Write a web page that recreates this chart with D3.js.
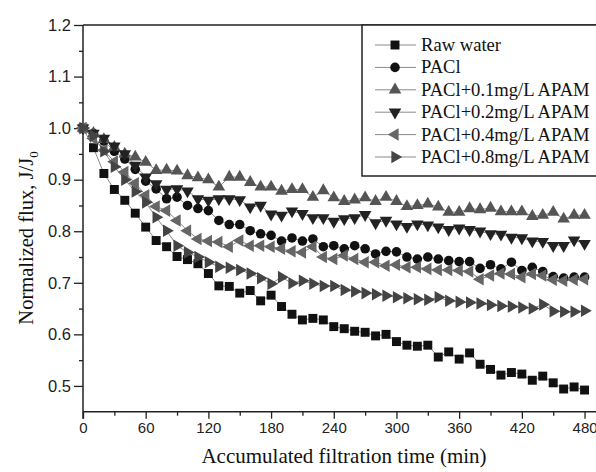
<!DOCTYPE html>
<html>
<head>
<meta charset="utf-8">
<script src="https://cdn.jsdelivr.net/npm/d3@7"></script>
<style>
  html, body { margin: 0; padding: 0; background: #fff; }
  svg { display: block; }
</style>
</head>
<body>
<div id="chart"></div>
<script>
// time axis, one reading every 10 min
var times = d3.range(0, 481, 10);

var rawWater = [1.000, 0.962, 0.912, 0.881, 0.860, 0.835, 0.808, 0.782, 0.770, 0.751,
  0.745, 0.737, 0.718, 0.694, 0.693, 0.680, 0.685, 0.665, 0.676, 0.654,
  0.639, 0.628, 0.631, 0.628, 0.615, 0.611, 0.606, 0.604, 0.597, 0.600,
  0.586, 0.579, 0.577, 0.579, 0.556, 0.566, 0.552, 0.564, 0.542, 0.532,
  0.521, 0.526, 0.523, 0.511, 0.519, 0.506, 0.494, 0.498, 0.492];

var pacl = [1.000, 0.990, 0.975, 0.955, 0.940, 0.920, 0.897, 0.882, 0.863, 0.866,
  0.850, 0.844, 0.840, 0.821, 0.813, 0.813, 0.801, 0.795, 0.792, 0.781,
  0.787, 0.781, 0.785, 0.770, 0.772, 0.766, 0.772, 0.766, 0.756, 0.761,
  0.760, 0.750, 0.746, 0.750, 0.746, 0.743, 0.741, 0.741, 0.728, 0.735,
  0.727, 0.740, 0.724, 0.730, 0.722, 0.712, 0.709, 0.711, 0.711];

var apam01 = [1.000, 0.990, 0.978, 0.963, 0.950, 0.944, 0.934, 0.918, 0.919, 0.917,
  0.908, 0.904, 0.900, 0.886, 0.905, 0.905, 0.895, 0.886, 0.886, 0.878,
  0.881, 0.881, 0.866, 0.879, 0.865, 0.858, 0.861, 0.865, 0.858, 0.866,
  0.858, 0.848, 0.850, 0.853, 0.847, 0.837, 0.837, 0.844, 0.842, 0.845,
  0.838, 0.838, 0.838, 0.829, 0.831, 0.837, 0.824, 0.831, 0.831];

var apam02 = [1.000, 0.990, 0.980, 0.965, 0.950, 0.928, 0.905, 0.892, 0.881, 0.882,
  0.878, 0.863, 0.860, 0.863, 0.863, 0.861, 0.847, 0.850, 0.833, 0.831,
  0.839, 0.834, 0.826, 0.826, 0.819, 0.824, 0.826, 0.832, 0.816, 0.821,
  0.814, 0.809, 0.814, 0.812, 0.808, 0.803, 0.806, 0.803, 0.800, 0.795,
  0.794, 0.788, 0.787, 0.781, 0.780, 0.772, 0.772, 0.783, 0.776];

var apam04 = [1.000, 0.980, 0.957, 0.935, 0.915, 0.893, 0.870, 0.848, 0.840, 0.821,
  0.801, 0.785, 0.781, 0.779, 0.770, 0.782, 0.772, 0.772, 0.770, 0.766,
  0.761, 0.759, 0.770, 0.750, 0.746, 0.753, 0.746, 0.740, 0.740, 0.733,
  0.735, 0.730, 0.730, 0.727, 0.725, 0.725, 0.724, 0.722, 0.707, 0.714,
  0.718, 0.717, 0.711, 0.717, 0.714, 0.706, 0.704, 0.706, 0.707];

var apam08 = [1.000, 0.985, 0.955, 0.925, 0.900, 0.877, 0.856, 0.827, 0.801, 0.772,
  0.759, 0.750, 0.740, 0.731, 0.729, 0.725, 0.718, 0.709, 0.698, 0.711,
  0.699, 0.704, 0.698, 0.694, 0.694, 0.686, 0.683, 0.680, 0.678, 0.675,
  0.672, 0.670, 0.668, 0.667, 0.672, 0.665, 0.663, 0.662, 0.660, 0.657,
  0.655, 0.654, 0.652, 0.650, 0.658, 0.645, 0.644, 0.644, 0.646];

var seriesNames = ["Raw water", "PACl", "PACl+0.1mg/L APAM", "PACl+0.2mg/L APAM",
  "PACl+0.4mg/L APAM", "PACl+0.8mg/L APAM"];
var seriesValues = [rawWater, pacl, apam01, apam02, apam04, apam08];

var xTicks = [0, 60, 120, 180, 240, 300, 360, 420, 480];
var yTicks = [0.5, 0.6, 0.7, 0.8, 0.9, 1.0, 1.1, 1.2];

// marker look for each series
var markers = [
  { type: d3.symbolSquare, size: 80, rot: 0, fill: "#111" },
  { type: d3.symbolCircle, size: 72, rot: 0, fill: "#111" },
  { type: d3.symbolTriangle, size: 68, rot: 0, fill: "#555" },
  { type: d3.symbolTriangle, size: 68, rot: 180, fill: "#222" },
  { type: d3.symbolTriangle, size: 68, rot: -90, fill: "#666" },
  { type: d3.symbolTriangle, size: 68, rot: 90, fill: "#444" }
];

var W = 596, H = 472;
var m = { left: 83, top: 25, right: 595, bottom: 411.7 };

var svg = d3.select("#chart").append("svg")
  .attr("width", W).attr("height", H);

var x = d3.scaleLinear().domain([0, 490]).range([m.left, m.right]);
var y = d3.scaleLinear().domain([0.45, 1.2]).range([m.bottom, m.top]);

var axisColor = "#222";
var serif = "'Liberation Serif', 'Times New Roman', serif";

// frame: top line
svg.append("line")
  .attr("x1", m.left).attr("x2", W).attr("y1", m.top).attr("y2", m.top)
  .attr("stroke", axisColor).attr("stroke-width", 1.5);

// x axis
var xAxis = svg.append("g").attr("transform", "translate(0," + m.bottom + ")")
  .call(d3.axisBottom(x).tickValues(xTicks).tickSize(7).tickPadding(4).tickFormat(d3.format("d")));
svg.append("g").attr("transform", "translate(0," + m.bottom + ")")
  .call(d3.axisBottom(x).tickValues(d3.range(30, 481, 60)).tickSize(4).tickFormat(""))
  .select(".domain").remove();
xAxis.selectAll(".tick text").style("font-size", "15px");

// y axis
var yAxis = svg.append("g").attr("transform", "translate(" + m.left + ",0)")
  .call(d3.axisLeft(y).tickValues(yTicks).tickSize(9).tickPadding(3).tickFormat(d3.format(".1f")));
svg.append("g").attr("transform", "translate(" + m.left + ",0)")
  .call(d3.axisLeft(y).tickValues([0.55, 0.65, 0.75, 0.85, 0.95, 1.05, 1.15]).tickSize(4).tickFormat(""))
  .select(".domain").remove();
yAxis.selectAll(".tick text").style("font-size", "16.5px");

svg.selectAll(".domain").attr("stroke", axisColor).attr("stroke-width", 1.5);
svg.selectAll(".tick line").attr("stroke", axisColor).attr("stroke-width", 1.3);
svg.selectAll(".tick text")
  .attr("fill", "#222")
  .style("font-family", "'Liberation Sans', Arial, sans-serif");
// x axis line runs to the image edge, y axis line down to the 0 tick
xAxis.select(".domain").attr("d", "M" + (m.left) + ",0H" + W);
yAxis.select(".domain").attr("d", "M0," + m.top + "V" + (m.bottom + 7));

// series lines and markers
var line = d3.line()
  .x(function(d, i) { return x(times[i]); })
  .y(function(d) { return y(d); });

seriesValues.forEach(function(vals) {
  svg.append("path")
    .attr("d", line(vals))
    .attr("fill", "none")
    .attr("stroke", "#8a8a8a")
    .attr("stroke-width", 1);
});

seriesValues.forEach(function(vals, k) {
  var mk = markers[k];
  svg.append("g").selectAll("path")
    .data(vals)
    .enter().append("path")
    .attr("d", d3.symbol().type(mk.type).size(mk.size))
    .attr("transform", function(d, i) {
      return "translate(" + x(times[i]) + "," + y(d) + ") rotate(" + mk.rot + ")";
    })
    .attr("fill", mk.fill);
});

// legend
var legend = svg.append("g");
legend.append("rect")
  .attr("x", 362).attr("y", 25).attr("width", 250).attr("height", 151)
  .attr("fill", "#fff").attr("stroke", axisColor).attr("stroke-width", 1.5);

seriesNames.forEach(function(name, k) {
  var ly = 45 + k * 22.4;
  var mk = markers[k];
  legend.append("line")
    .attr("x1", 375).attr("x2", 416).attr("y1", ly).attr("y2", ly)
    .attr("stroke", "#8a8a8a").attr("stroke-width", 1);
  legend.append("path")
    .attr("d", d3.symbol().type(mk.type).size(mk.size))
    .attr("transform", "translate(395," + ly + ") rotate(" + mk.rot + ")")
    .attr("fill", mk.fill);
  legend.append("text")
    .attr("x", 421).attr("y", ly + 6)
    .style("font-family", serif)
    .style("font-size", "18.6px")
    .attr("fill", "#111")
    .text(name);
});

// axis titles
svg.append("text")
  .attr("x", 344).attr("y", 463)
  .attr("text-anchor", "middle")
  .style("font-family", serif)
  .style("font-size", "21px")
  .attr("fill", "#111")
  .text("Accumulated filtration time (min)");

var yTitle = svg.append("text")
  .attr("transform", "translate(33,238) rotate(-90)")
  .attr("text-anchor", "middle")
  .style("font-family", serif)
  .style("font-size", "20.5px")
  .attr("fill", "#111");
yTitle.append("tspan").text("Normalized flux, J/J");
yTitle.append("tspan").attr("dy", 5).style("font-size", "13px").text("0");
</script>
</body>
</html>
